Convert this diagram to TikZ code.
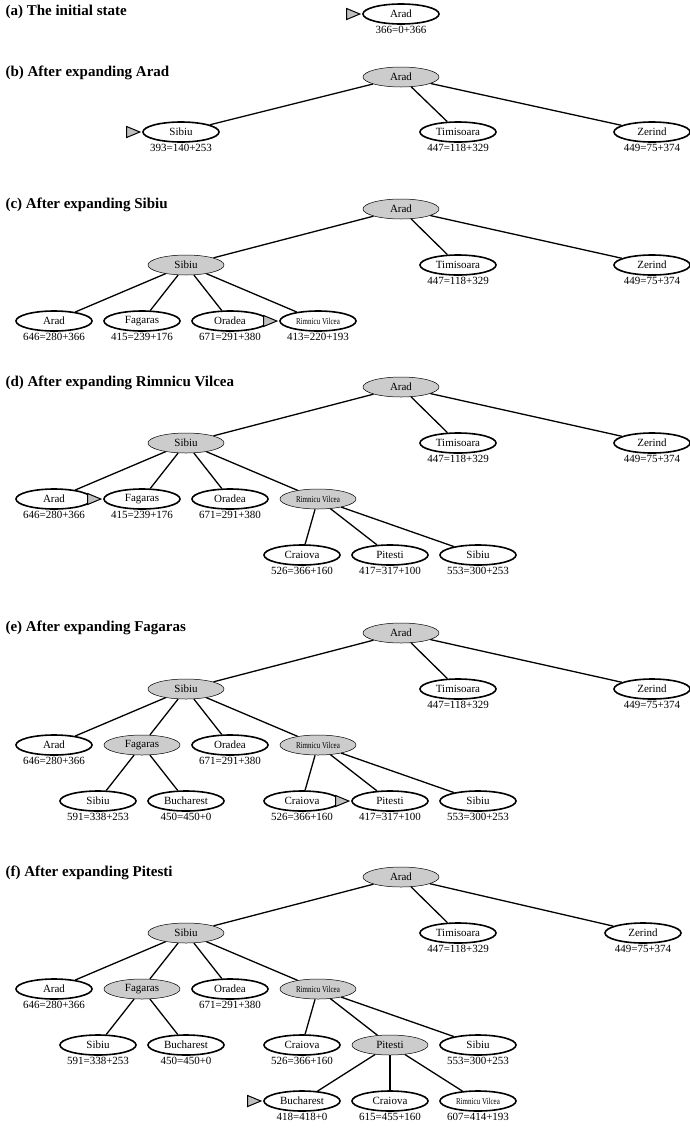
\documentclass[tikz,border=0pt]{standalone}
\usepackage{fontspec}
\setmainfont{Liberation Serif}
\usetikzlibrary{positioning,shapes.geometric}
\newcommand{\rv}{\scalebox{0.78}[1]{\small Rimnicu Vilcea}}
\begin{document}
\begin{tikzpicture}[x=1pt,y=-1pt,
    city/.style={ellipse, draw, line width=1.6pt, fill=white, minimum width=76pt, minimum height=20pt, inner sep=0pt, font=\fontsize{11}{12}\selectfont},
    done/.style={city, line width=0.5pt, fill=gray!40},
    cost/.style={below=1pt, inner sep=0pt, font=\fontsize{11}{12}\selectfont},
    head/.style={anchor=west, font=\fontsize{15}{17}\selectfont\bfseries},
    next/.style={isosceles triangle, draw, line width=1pt, fill=gray!50, minimum width=11pt, minimum height=9pt, inner sep=0pt, left=1pt},
    edge/.style={line width=1.3pt}
]
\useasboundingbox (0,0) rectangle (690,1136);

% (a)
\node[head] at (2,12) {(a) The initial state};
\node[city] (a0) at (401,14) {Arad};
\node[cost] at (a0.south) {366=0+366};
\node[next] at (a0.west) {};

% (b)
\node[head] at (2,73) {(b) After expanding Arad};
\node[done] (b0) at (401,77) {Arad};
\node[city] (b1) at (181,132) {Sibiu};
\node[city] (b2) at (458,132) {Timisoara};
\node[city] (b3) at (652,132) {Zerind};
\node[cost] at (b1.south) {393=140+253};
\node[cost] at (b2.south) {447=118+329};
\node[cost] at (b3.south) {449=75+374};
\node[next] at (b1.west) {};
\foreach \n in {b1,b2,b3} \draw[edge] (b0) -- (\n);

% (c)
\node[head] at (2,205) {(c) After expanding Sibiu};
\node[done] (c0) at (401,209) {Arad};
\node[done] (c1) at (186,265) {Sibiu};
\node[city] (c2) at (458,265) {Timisoara};
\node[city] (c3) at (652,265) {Zerind};
\node[cost] at (c2.south) {447=118+329};
\node[cost] at (c3.south) {449=75+374};
\node[city] (c11) at (54,321) {Arad};
\node[city] (c12) at (142,321) {Fagaras};
\node[city] (c13) at (230,321) {Oradea};
\node[city] (c14) at (318,321) {\rv};
\node[cost] at (c11.south) {646=280+366};
\node[cost] at (c12.south) {415=239+176};
\node[cost] at (c13.south) {671=291+380};
\node[cost] at (c14.south) {413=220+193};
\node[next] at (c14.west) {};
\foreach \n in {c1,c2,c3} \draw[edge] (c0) -- (\n);
\foreach \n in {c11,c12,c13,c14} \draw[edge] (c1) -- (\n);

% (d)
\node[head] at (2,383) {(d) After expanding Rimnicu Vilcea};
\node[done] (d0) at (401,387) {Arad};
\node[done] (d1) at (186,443) {Sibiu};
\node[city] (d2) at (458,443) {Timisoara};
\node[city] (d3) at (652,443) {Zerind};
\node[cost] at (d2.south) {447=118+329};
\node[cost] at (d3.south) {449=75+374};
\node[city] (d11) at (54,499) {Arad};
\node[city] (d12) at (142,499) {Fagaras};
\node[city] (d13) at (230,499) {Oradea};
\node[done] (d14) at (318,499) {\rv};
\node[cost] at (d11.south) {646=280+366};
\node[cost] at (d12.south) {415=239+176};
\node[cost] at (d13.south) {671=291+380};
\node[next] at (d12.west) {};
\node[city] (d141) at (302,555) {Craiova};
\node[city] (d142) at (390,555) {Pitesti};
\node[city] (d143) at (478,555) {Sibiu};
\node[cost] at (d141.south) {526=366+160};
\node[cost] at (d142.south) {417=317+100};
\node[cost] at (d143.south) {553=300+253};
\foreach \n in {d1,d2,d3} \draw[edge] (d0) -- (\n);
\foreach \n in {d11,d12,d13,d14} \draw[edge] (d1) -- (\n);
\foreach \n in {d141,d142,d143} \draw[edge] (d14) -- (\n);

% (e)
\node[head] at (2,628) {(e) After expanding Fagaras};
\node[done] (e0) at (401,633) {Arad};
\node[done] (e1) at (186,689) {Sibiu};
\node[city] (e2) at (458,689) {Timisoara};
\node[city] (e3) at (652,689) {Zerind};
\node[cost] at (e2.south) {447=118+329};
\node[cost] at (e3.south) {449=75+374};
\node[city] (e11) at (54,745) {Arad};
\node[done] (e12) at (142,745) {Fagaras};
\node[city] (e13) at (230,745) {Oradea};
\node[done] (e14) at (318,745) {\rv};
\node[cost] at (e11.south) {646=280+366};
\node[cost] at (e13.south) {671=291+380};
\node[city] (e121) at (98,801) {Sibiu};
\node[city] (e122) at (186,801) {Bucharest};
\node[cost] at (e121.south) {591=338+253};
\node[cost] at (e122.south) {450=450+0};
\node[city] (e141) at (302,801) {Craiova};
\node[city] (e142) at (390,801) {Pitesti};
\node[city] (e143) at (478,801) {Sibiu};
\node[cost] at (e141.south) {526=366+160};
\node[cost] at (e142.south) {417=317+100};
\node[cost] at (e143.south) {553=300+253};
\node[next] at (e142.west) {};
\foreach \n in {e1,e2,e3} \draw[edge] (e0) -- (\n);
\foreach \n in {e11,e12,e13,e14} \draw[edge] (e1) -- (\n);
\foreach \n in {e121,e122} \draw[edge] (e12) -- (\n);
\foreach \n in {e141,e142,e143} \draw[edge] (e14) -- (\n);

% (f)
\node[head] at (2,873) {(f) After expanding Pitesti};
\node[done] (f0) at (401,877) {Arad};
\node[done] (f1) at (186,933) {Sibiu};
\node[city] (f2) at (458,933) {Timisoara};
\node[city] (f3) at (643,933) {Zerind};
\node[cost] at (f2.south) {447=118+329};
\node[cost] at (f3.south) {449=75+374};
\node[city] (f11) at (54,989) {Arad};
\node[done] (f12) at (142,989) {Fagaras};
\node[city] (f13) at (230,989) {Oradea};
\node[done] (f14) at (318,989) {\rv};
\node[cost] at (f11.south) {646=280+366};
\node[cost] at (f13.south) {671=291+380};
\node[city] (f121) at (98,1045) {Sibiu};
\node[city] (f122) at (186,1045) {Bucharest};
\node[cost] at (f121.south) {591=338+253};
\node[cost] at (f122.south) {450=450+0};
\node[city] (f141) at (302,1045) {Craiova};
\node[done] (f142) at (390,1045) {Pitesti};
\node[city] (f143) at (478,1045) {Sibiu};
\node[cost] at (f141.south) {526=366+160};
\node[cost] at (f143.south) {553=300+253};
\node[city] (f1421) at (302,1101) {Bucharest};
\node[city] (f1422) at (390,1101) {Craiova};
\node[city] (f1423) at (478,1101) {\rv};
\node[cost] at (f1421.south) {418=418+0};
\node[cost] at (f1422.south) {615=455+160};
\node[cost] at (f1423.south) {607=414+193};
\node[next] at (f1421.west) {};
\foreach \n in {f1,f2,f3} \draw[edge] (f0) -- (\n);
\foreach \n in {f11,f12,f13,f14} \draw[edge] (f1) -- (\n);
\foreach \n in {f121,f122} \draw[edge] (f12) -- (\n);
\foreach \n in {f141,f142,f143} \draw[edge] (f14) -- (\n);
\foreach \n in {f1421,f1422,f1423} \draw[edge] (f142) -- (\n);
\end{tikzpicture}
\end{document}
